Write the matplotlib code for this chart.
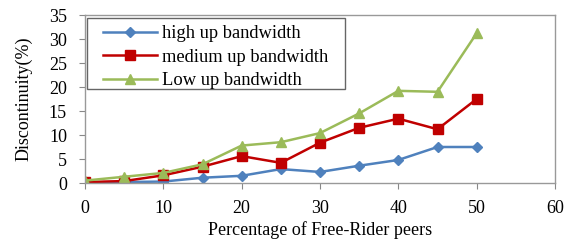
import matplotlib
matplotlib.use("Agg")
import matplotlib.pyplot as plt
from matplotlib.patches import Rectangle

# free-rider percentage on x, discontinuity (%) on y
free_rider_pct = [0, 5, 10, 15, 20, 25, 30, 35, 40, 45, 50]
high_up = [0.1, 0.2, 0.3, 1.1, 1.5, 2.9, 2.3, 3.6, 4.8, 7.5, 7.5]
medium_up = [0.2, 0.4, 1.6, 3.4, 5.6, 4.2, 8.4, 11.5, 13.4, 11.2, 17.5]
low_up = [0.5, 1.3, 2.1, 3.9, 7.8, 8.5, 10.4, 14.5, 19.2, 19.0, 31.2]

series = [
    ("high up bandwidth", high_up, "#4F81BD", "D", 5),
    ("medium up bandwidth", medium_up, "#C00000", "s", 7.5),
    ("Low up bandwidth", low_up, "#9BBB59", "^", 7.5),
]

plt.rcParams["font.family"] = ["Liberation Serif", "DejaVu Serif"]

W, H = 572, 243
fig = plt.figure(figsize=(W / 100, H / 100), dpi=100)
ax = fig.add_axes([85 / W, (H - 183) / H, 470 / W, 168 / H])

for label, vals, color, marker, ms in series:
    ax.plot(free_rider_pct, vals, color=color, marker=marker, markersize=ms,
            linewidth=1.8, label=label)

ax.set_xlim(0, 60)
ax.set_ylim(0, 35)
ax.set_xticks(range(0, 61, 10))
ax.set_yticks(range(0, 36, 5))
ax.tick_params(labelsize=13, length=4, width=0.8, color="#888888")
ax.tick_params(axis="x", pad=8)
ax.tick_params(axis="y", pad=9)

for side in ["left", "bottom", "top", "right"]:
    ax.spines[side].set_color("#999999")
    ax.spines[side].set_linewidth(1.0)

ax.set_xlabel("Percentage of Free-Rider peers", fontsize=13, labelpad=3)
ax.set_ylabel("Discontinuity(%)", fontsize=13, labelpad=12)

# legend without its own frame; the box is drawn separately to match padding
leg = ax.legend(loc="upper left", bbox_to_anchor=(103 / W, 1 - 25 / H),
                bbox_transform=fig.transFigure, fontsize=13.3, frameon=False,
                borderaxespad=0, borderpad=0, handlelength=2.9,
                handletextpad=0.3, labelspacing=0.36)
leg.set_zorder(6)
ax.add_patch(Rectangle((87 / W, 1 - 89 / H), (345 - 87) / W, 71 / H,
                       transform=fig.transFigure, facecolor="white",
                       edgecolor="#666666", linewidth=1.0, zorder=5,
                       clip_on=False))

fig.savefig("out.png", dpi=100)
